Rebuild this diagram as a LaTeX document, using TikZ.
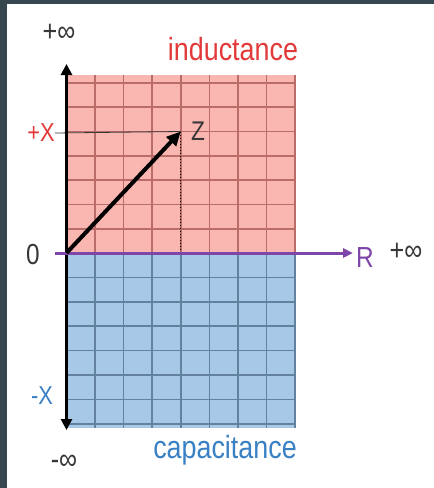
\documentclass[tikz,border=0pt]{standalone}
\usepackage{graphicx}
\usepackage{fontspec}
\setmainfont{Liberation Sans}
\usetikzlibrary{arrows.meta}

\definecolor{bordergray}{RGB}{55,71,79}
\definecolor{indfill}{RGB}{250,182,176}
\definecolor{indgrid}{RGB}{186,108,104}
\definecolor{capfill}{RGB}{168,200,232}
\definecolor{capgrid}{RGB}{100,130,160}
\definecolor{indred}{RGB}{226,58,58}
\definecolor{capblue}{RGB}{58,128,196}
\definecolor{axispurple}{RGB}{126,70,168}
\definecolor{labelgray}{RGB}{55,55,55}

\newcommand{\cond}[1]{\scalebox{0.84}[1]{#1}}

\tikzset{
  lbl/.style={inner sep=0pt, font=\fontsize{#1}{#1}\selectfont},
  gridline/.style={line width=1.6pt},
}

\begin{document}
\begin{tikzpicture}[x=1pt, y=-1pt]
    % 背景
    \fill[bordergray] (0,0) rectangle (434,488);
    \fill[white] (7,4) rectangle (434,488);

    % 两个区域
    \fill[indfill] (66.5,75) rectangle (295,253);
    \fill[capfill] (66.5,253) rectangle (295,428);

    % 网格
    \foreach \k in {1,...,8} {
        \draw[indgrid, gridline] ({66.5+\k*28.56},75) -- ({66.5+\k*28.56},253);
        \draw[capgrid, gridline] ({66.5+\k*28.56},253) -- ({66.5+\k*28.56},428);
    }
    \foreach \j in {1,...,7} {
        \draw[indgrid, gridline] (66.5,{253-\j*24.3}) -- (295,{253-\j*24.3});
        \draw[capgrid, gridline] (66.5,{253+\j*24.4}) -- (295,{253+\j*24.4});
    }

    % 坐标点
    \coordinate (O) at (66.5,253);
    \coordinate (top) at (66.5,64);
    \coordinate (bot) at (66.5,430);
    \coordinate (Rstart) at (55,253);
    \coordinate (Rend) at (353,253);
    \coordinate (Ztip) at (180.7,131.5);
    \coordinate (Zfoot) at (180.7,253);

    % 标注
    \node[lbl=32, text=indred, anchor=base] (ind) at (233,60) {\cond{inductance}};
    \node[lbl=32, text=capblue, anchor=base] (cap) at (225,458) {\cond{capacitance}};
    \node[lbl=30, text=labelgray] (pinf) at (59,33) {\cond{+∞}};
    \node[lbl=30, text=labelgray] (minf) at (64,462) {\cond{-∞}};
    \node[lbl=29, text=labelgray] (zero) at (33,255) {\cond{0}};
    \node[lbl=29, text=axispurple] (R) at (365,258) {\cond{R}};
    \node[lbl=30, text=labelgray] (rinf) at (406,252) {\cond{+∞}};
    \node[lbl=26, text=indred] (pX) at (41,133) {\cond{+X}};
    \node[lbl=26, text=capblue] (mX) at (42,396) {\cond{-X}};
    \node[lbl=27, text=labelgray] (Z) at (198,131) {\cond{Z}};

    % 辅助线
    \draw[labelgray, line width=0.8pt] (pX.east) -- (Ztip);
    \draw[black, dotted, line width=1pt] (Ztip) -- (Zfoot);

    % 坐标轴
    \draw[black, line width=3pt, {Triangle[width=11pt,length=11pt]}-{Triangle[width=11pt,length=11pt]}] (bot) -- (top);
    \draw[axispurple, line width=3pt, -{Triangle[width=9pt,length=10pt]}] (Rstart) -- (Rend);

    % 阻抗矢量
    \draw[black, line width=4pt, -{Triangle[width=13pt,length=14pt]}] (O) -- (Ztip);
\end{tikzpicture}
\end{document}
